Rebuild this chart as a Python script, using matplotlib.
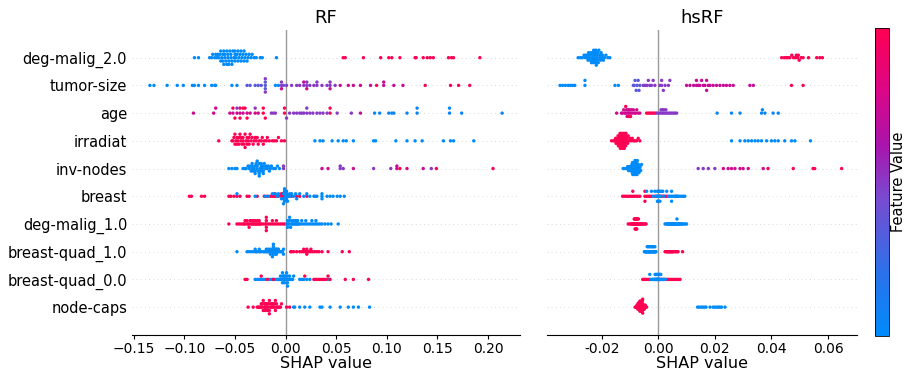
import numpy as np
import matplotlib
matplotlib.use("Agg")
import matplotlib.pyplot as plt
from matplotlib.colors import LinearSegmentedColormap

features = ['deg-malig_2.0', 'tumor-size', 'age', 'irradiat', 'inv-nodes', 'breast',
            'deg-malig_1.0', 'breast-quad_1.0', 'breast-quad_0.0', 'node-caps']

# ---------------- RF : SHAP values grouped by feature value level ----------------
rf_deg_malig_2 = {
    0.0: [-0.090, -0.086, -0.075, -0.073, -0.072, -0.070, -0.069, -0.068, -0.067, -0.066, -0.065,
          -0.064, -0.063, -0.062, -0.062, -0.061, -0.060, -0.060, -0.059, -0.058, -0.057, -0.057,
          -0.056, -0.055, -0.054, -0.054, -0.053, -0.052, -0.051, -0.050, -0.050, -0.049, -0.048,
          -0.047, -0.046, -0.045, -0.044, -0.043, -0.042, -0.041, -0.040, -0.039, -0.037, -0.036,
          -0.034, -0.033, -0.031, -0.029, -0.025, -0.023, -0.009,
          -0.064, -0.061, -0.058, -0.056, -0.053, -0.050, -0.047, -0.044, -0.041, -0.038],
    1.0: [0.057, 0.059, 0.077, 0.094, 0.102, 0.105, 0.113, 0.128, 0.129, 0.136, 0.140, 0.143,
          0.146, 0.161, 0.164, 0.166, 0.192],
}
rf_tumor_size = {
    0.0: [-0.134, -0.130, -0.117, -0.107, -0.101, -0.092, -0.090, -0.086, -0.080, -0.073, -0.070,
          -0.069, -0.053, -0.048, -0.010, -0.007],
    0.35: [-0.038, -0.035, -0.030, -0.027, -0.024, -0.020, -0.020, -0.020, -0.002],
    0.5: [-0.020, -0.020, -0.004, -0.004, 0.001, 0.006, 0.011, 0.014, 0.018, 0.021, 0.021, 0.024,
          0.028, 0.031, 0.031, 0.036, 0.041, 0.044, 0.044, 0.049],
    0.72: [-0.004, 0.018, 0.021, 0.044, 0.054, 0.062, 0.067, 0.074, 0.084, 0.097, 0.097, 0.107, 0.116],
    0.95: [0.090, 0.138, 0.163, 0.171, 0.182],
}
rf_age = {
    0.75: [-0.091, -0.071, -0.069, -0.055, -0.052, -0.048, -0.045, -0.042, -0.038, -0.035, -0.030,
           -0.027, 0.074],
    1.0: [-0.052, -0.050, -0.045, -0.045, -0.042, -0.040, -0.038, -0.022, -0.022, -0.020, -0.001,
          -0.001, 0.044, 0.044],
    0.5: [-0.048, -0.030, -0.014, -0.012, -0.010, 0.001, 0.004, 0.008, 0.011, 0.014, 0.016, 0.018,
          0.021, 0.021, 0.024, 0.027, 0.031, 0.034, 0.037, 0.041, 0.051, 0.065],
    0.05: [0.088, 0.093, 0.102, 0.105, 0.107, 0.120, 0.130, 0.130, 0.162, 0.162, 0.174, 0.214],
}
rf_irradiat = {
    1.0: [-0.066, -0.053, -0.052, -0.051, -0.050, -0.050, -0.049, -0.048, -0.048, -0.047, -0.046,
          -0.046, -0.045, -0.044, -0.044, -0.043, -0.042, -0.042, -0.041, -0.040, -0.040, -0.039,
          -0.038, -0.038, -0.037, -0.036, -0.036, -0.035, -0.034, -0.033, -0.032, -0.031, -0.030,
          -0.029, -0.028, -0.027, -0.026, -0.024, -0.023, -0.022, -0.021, -0.019, -0.018, -0.016,
          -0.013, -0.011, -0.009, -0.007, -0.004, -0.001],
    0.0: [0.029, 0.034, 0.037, 0.046, 0.052, 0.057, 0.060, 0.067, 0.087, 0.089, 0.109, 0.120,
          0.128, 0.135, 0.156, 0.163, 0.166, 0.186],
}
rf_inv_nodes = {
    0.0: [-0.056, -0.053, -0.050, -0.048, -0.042, -0.040, -0.039, -0.037, -0.036, -0.035, -0.034,
          -0.033, -0.033, -0.032, -0.031, -0.030, -0.030, -0.029, -0.028, -0.028, -0.027, -0.026,
          -0.026, -0.025, -0.024, -0.024, -0.023, -0.022, -0.022, -0.021, -0.020, -0.019, -0.018,
          -0.017, -0.016, -0.015, -0.014, -0.012, -0.010, -0.008, -0.006,
          -0.033, -0.030, -0.028, -0.026, -0.024, -0.022],
    0.5: [-0.002, -0.002, 0.054, 0.054, 0.057, 0.087, 0.104, 0.144],
    0.75: [0.036, 0.042, 0.067, 0.110, 0.110, 0.120, 0.136],
    1.0: [0.113, 0.149, 0.205],
}
rf_breast = {
    1.0: [-0.095, -0.093, -0.083, -0.080, -0.056, -0.054, -0.051, -0.048, -0.045, -0.038, -0.036,
          -0.028, -0.021, -0.018, -0.015, -0.013, -0.011, -0.009, -0.007, -0.004, -0.004, -0.003,
          -0.002, 0.001, 0.006, 0.011, 0.014, 0.021, 0.029, -0.003, -0.011],
    0.0: [-0.048, -0.030, -0.020, -0.017, -0.013, -0.010, -0.008, -0.007, -0.004, -0.002, -0.002,
          -0.001, -0.001, 0.001, 0.001, 0.003, 0.004, 0.006, 0.008, 0.010, 0.011, 0.014, 0.018,
          0.021, 0.024, 0.028, 0.031, 0.036, 0.036, 0.036, 0.041, 0.044, 0.047, 0.051, 0.054, 0.058,
          0.000, 0.000, -0.001, 0.001, 0.002, -0.002, 0.004],
}
rf_deg_malig_1 = {
    1.0: [-0.056, -0.048, -0.046, -0.044, -0.042, -0.041, -0.040, -0.038, -0.037, -0.036, -0.035,
          -0.034, -0.033, -0.032, -0.031, -0.030, -0.029, -0.028, -0.027, -0.026, -0.025, -0.024,
          -0.022, -0.020, -0.019, -0.019, -0.019, -0.017, -0.015, -0.013, -0.011, -0.009, -0.007,
          -0.005, -0.003, -0.001,
          -0.040, -0.038, -0.036, -0.034, -0.032, -0.030, -0.028, -0.026, -0.019, -0.019, -0.013,
          -0.009],
    0.0: [0.001, 0.002, 0.002, 0.003, 0.004, 0.004, 0.005, 0.006, 0.007, 0.008, 0.009, 0.010,
          0.011, 0.012, 0.013, 0.014, 0.016, 0.018, 0.020, 0.022, 0.024, 0.026, 0.028, 0.030,
          0.032, 0.034, 0.036, 0.039, 0.042, 0.045, 0.052,
          0.002, 0.004, 0.006, 0.008, 0.010, 0.012, 0.016, 0.020, 0.026, 0.030],
}
rf_breast_quad_1 = {
    0.0: [-0.048, -0.038, -0.036, -0.034, -0.032, -0.030, -0.029, -0.028, -0.026, -0.025, -0.024,
          -0.022, -0.021, -0.020, -0.019, -0.019, -0.018, -0.017, -0.016, -0.015, -0.015, -0.014,
          -0.013, -0.013, -0.012, -0.012, -0.011, -0.011, -0.010, -0.010, -0.009, -0.009, -0.008,
          -0.007, -0.006, -0.005, -0.004, -0.003, -0.002, -0.002,
          -0.017, -0.015, -0.013, -0.012, -0.010, -0.009, -0.008, -0.007, -0.030, -0.026],
    1.0: [0.005, 0.006, 0.008, 0.011, 0.014, 0.016, 0.018, 0.020, 0.021, 0.021, 0.023, 0.025,
          0.027, 0.029, 0.031, 0.033, 0.036, 0.042, 0.056, 0.063, 0.021, 0.018, 0.025],
}
rf_breast_quad_0 = {
    0.0: [-0.030, -0.028, -0.026, -0.024, -0.022, -0.020, -0.017, -0.015, -0.013, -0.011, -0.009,
          -0.008, -0.007, -0.006, -0.005, -0.004, -0.003, -0.003, -0.002, -0.001, -0.001, 0.000,
          0.001, 0.002, 0.002, 0.003, 0.004, 0.005, 0.006, 0.007, 0.008, 0.014, 0.016, 0.018,
          0.021, 0.024, 0.042,
          -0.003, -0.002, -0.001, 0.000, 0.001, 0.002, 0.004, -0.005],
    1.0: [-0.040, -0.038, -0.024, -0.018, -0.012, 0.019, 0.028, 0.030, 0.032, 0.034, 0.036, 0.038,
          0.040, 0.042, 0.044, 0.059, 0.067, 0.082],
}
rf_node_caps = {
    1.0: [-0.037, -0.032, -0.028, -0.027, -0.026, -0.025, -0.024, -0.024, -0.023, -0.023, -0.022,
          -0.022, -0.021, -0.021, -0.020, -0.020, -0.020, -0.019, -0.019, -0.018, -0.018, -0.018,
          -0.017, -0.017, -0.016, -0.016, -0.016, -0.015, -0.015, -0.014, -0.014, -0.013, -0.013,
          -0.012, -0.012, -0.011, -0.011, -0.010, -0.010, -0.009, -0.009, -0.008, -0.007, -0.006,
          -0.005, -0.004, 0.001, 0.004],
    0.0: [0.008, 0.009, 0.014, 0.019, 0.024, 0.034, 0.036, 0.044, 0.054, 0.062, 0.067, 0.072, 0.083],
}

# ---------------- hsRF ----------------
hs_deg_malig_2 = {
    0.0: [-0.0283, -0.0275, -0.0268, -0.0262, -0.0258, -0.0255, -0.0252, -0.0250, -0.0248, -0.0246,
          -0.0244, -0.0242, -0.0240, -0.0238, -0.0236, -0.0234, -0.0232, -0.0231, -0.0230, -0.0229,
          -0.0228, -0.0226, -0.0225, -0.0224, -0.0222, -0.0221, -0.0220, -0.0219, -0.0218, -0.0216,
          -0.0215, -0.0213, -0.0212, -0.0210, -0.0208, -0.0206, -0.0204, -0.0202, -0.0200, -0.0197,
          -0.0194, -0.0190, -0.0185, -0.0178, -0.0171],
    1.0: [0.0436, 0.0445, 0.0452, 0.0458, 0.0465, 0.0472, 0.0478, 0.0485, 0.0488, 0.0492, 0.0495,
          0.0498, 0.0505, 0.0512, 0.0531, 0.0560, 0.0571, 0.0580],
}
hs_tumor_size = {
    0.0: [-0.0347, -0.0338, -0.0328, -0.0318, -0.0310, -0.0302, -0.0295, -0.0259, -0.0259, -0.0153,
          -0.0141],
    0.35: [-0.0088, -0.0085, -0.0082, -0.0078, -0.0075, -0.0071, -0.0068, -0.0065],
    0.5: [-0.0053, -0.0047, -0.0040, -0.0035, -0.0030, -0.0024, -0.0018, -0.0012, 0.0006, 0.0012,
          0.0012, 0.0018, 0.0024, 0.0036, 0.0041],
    0.72: [0.0100, 0.0112, 0.0125, 0.0135, 0.0135, 0.0141, 0.0147, 0.0153, 0.0159, 0.0165, 0.0171,
           0.0171, 0.0177, 0.0183, 0.0194, 0.0206, 0.0218, 0.0230, 0.0241, 0.0253, 0.0265, 0.0324,
           0.0336],
    0.97: [0.0471, 0.0512],
}
hs_age = {
    0.75: [-0.0147, -0.0130, -0.0126, -0.0122, -0.0118, -0.0115, -0.0112, -0.0110, -0.0108, -0.0106,
           -0.0104, -0.0102, -0.0100, -0.0098, -0.0095, -0.0092, -0.0088, -0.0084, -0.0080, -0.0076,
           -0.0071, -0.0065],
    1.0: [-0.0115, -0.0105, -0.0098, -0.0041, -0.0035, -0.0029, -0.0024, -0.0018, -0.0012],
    0.5: [-0.0006, 0.0000, 0.0006, 0.0010, 0.0012, 0.0015, 0.0018, 0.0020, 0.0024, 0.0027, 0.0030,
          0.0036, 0.0041, 0.0047, 0.0053, 0.0059, 0.0065],
    0.05: [0.0208, 0.0259, 0.0289, 0.0365, 0.0368, 0.0377, 0.0406, 0.0424],
}
hs_irradiat = {
    1.0: [-0.0165, -0.0158, -0.0154, -0.0151, -0.0149, -0.0147, -0.0145, -0.0143, -0.0142, -0.0141,
          -0.0140, -0.0139, -0.0138, -0.0137, -0.0136, -0.0135, -0.0134, -0.0133, -0.0132, -0.0131,
          -0.0130, -0.0129, -0.0128, -0.0127, -0.0126, -0.0125, -0.0124, -0.0123, -0.0122, -0.0121,
          -0.0120, -0.0119, -0.0118, -0.0117, -0.0116, -0.0115, -0.0114, -0.0112, -0.0110, -0.0108,
          -0.0106, -0.0103, -0.0100, -0.0096, -0.0092, -0.0088, -0.0083, -0.0077, -0.0071, -0.0065],
    0.0: [0.0259, 0.0289, 0.0306, 0.0318, 0.0330, 0.0342, 0.0353, 0.0365, 0.0383, 0.0400, 0.0412,
          0.0424, 0.0447, 0.0471, 0.0483, 0.0538],
}
hs_inv_nodes = {
    0.0: [-0.0124, -0.0118, -0.0112, -0.0108, -0.0105, -0.0102, -0.0100, -0.0098, -0.0096, -0.0095,
          -0.0094, -0.0093, -0.0092, -0.0091, -0.0090, -0.0089, -0.0088, -0.0087, -0.0086, -0.0085,
          -0.0084, -0.0083, -0.0082, -0.0081, -0.0080, -0.0079, -0.0078, -0.0077, -0.0076, -0.0075,
          -0.0074, -0.0073, -0.0072, -0.0071, -0.0070, -0.0068, -0.0066, -0.0064, -0.0062, -0.0059],
    0.5: [0.0141, 0.0159, 0.0177, 0.0200],
    0.75: [0.0230, 0.0247, 0.0259, 0.0271, 0.0289, 0.0300, 0.0318, 0.0371],
    1.0: [0.0388, 0.0477, 0.0547, 0.0553, 0.0648],
}
hs_breast = {
    1.0: [-0.0126, -0.0120, -0.0114, -0.0108, -0.0102, -0.0096, -0.0090, -0.0084, -0.0078, -0.0072,
          -0.0065, -0.0047, -0.0047, -0.0041, -0.0035, -0.0030, -0.0024, -0.0012, 0.0006, 0.0012,
          0.0018, 0.0024, 0.0030, -0.0090, -0.0047, -0.0002],
    0.0: [-0.0041, -0.0024, -0.0018, -0.0012, -0.0008, -0.0006, -0.0003, 0.0000, 0.0003, 0.0006,
          0.0008, 0.0012, 0.0016, 0.0020, 0.0030, 0.0036, 0.0041, 0.0047, 0.0053, 0.0059, 0.0062,
          0.0065, 0.0068, 0.0071, 0.0077, 0.0083, 0.0089, 0.0094,
          0.0000, 0.0000, 0.0003, -0.0003, 0.0006, 0.0047, 0.0047],
}
hs_deg_malig_1 = {
    1.0: [-0.0106, -0.0100, -0.0096, -0.0093, -0.0091, -0.0089, -0.0087, -0.0086, -0.0085, -0.0084,
          -0.0083, -0.0082, -0.0081, -0.0080, -0.0079, -0.0078, -0.0077, -0.0076, -0.0075, -0.0074,
          -0.0073, -0.0072, -0.0070, -0.0068, -0.0066, -0.0064, -0.0061, -0.0058, -0.0055, -0.0051,
          -0.0047, -0.0043, -0.0082, -0.0080, -0.0078, -0.0076],
    0.0: [0.0024, 0.0028, 0.0031, 0.0034, 0.0036, 0.0038, 0.0040, 0.0042, 0.0044, 0.0046, 0.0048,
          0.0050, 0.0052, 0.0054, 0.0056, 0.0058, 0.0060, 0.0062, 0.0064, 0.0066, 0.0068, 0.0070,
          0.0072, 0.0074, 0.0077, 0.0080, 0.0083, 0.0086, 0.0090, 0.0095, 0.0100],
}
hs_breast_quad_1 = {
    0.0: [-0.0049, -0.0047, -0.0045, -0.0043, -0.0042, -0.0041, -0.0040, -0.0039, -0.0038, -0.0037,
          -0.0036, -0.0035, -0.0034, -0.0033, -0.0032, -0.0031, -0.0030, -0.0029, -0.0028, -0.0027,
          -0.0026, -0.0025, -0.0024, -0.0023, -0.0022, -0.0021, -0.0020, -0.0019, -0.0018, -0.0017,
          -0.0016, -0.0015, -0.0014, -0.0013, -0.0012, -0.0011, -0.0010, -0.0008],
    1.0: [0.0024, 0.0027, 0.0030, 0.0032, 0.0034, 0.0036, 0.0038, 0.0040, 0.0042, 0.0044, 0.0046,
          0.0048, 0.0050, 0.0052, 0.0055, 0.0058, 0.0062, 0.0066, 0.0070, 0.0086],
}
hs_breast_quad_0 = {
    1.0: [-0.0055, -0.0050, -0.0045, -0.0040, -0.0035, -0.0030, 0.0002, 0.0008, 0.0018, 0.0024,
          0.0030, 0.0036, 0.0041, 0.0047, 0.0053, 0.0059, 0.0065, 0.0071, 0.0077],
    0.0: [-0.0030, -0.0026, -0.0022, -0.0019, -0.0016, -0.0014, -0.0012, -0.0011, -0.0010, -0.0009,
          -0.0008, -0.0007, -0.0006, -0.0005, -0.0004, -0.0003, -0.0002, -0.0001, 0.0000, 0.0001,
          0.0002, 0.0003, 0.0004, 0.0005, 0.0007, 0.0009, 0.0011, 0.0013, 0.0015, 0.0020, 0.0025],
}
hs_node_caps = {
    1.0: [-0.0082, -0.0079, -0.0077, -0.0075, -0.0074, -0.0073, -0.0072, -0.0071, -0.0070, -0.0069,
          -0.0068, -0.0067, -0.0067, -0.0066, -0.0066, -0.0065, -0.0065, -0.0064, -0.0064, -0.0063,
          -0.0063, -0.0062, -0.0062, -0.0061, -0.0061, -0.0060, -0.0060, -0.0059, -0.0059, -0.0058,
          -0.0058, -0.0057, -0.0057, -0.0056, -0.0056, -0.0055, -0.0055, -0.0054, -0.0053, -0.0052,
          -0.0051, -0.0050, -0.0049, -0.0048, -0.0046, -0.0044, -0.0041],
    0.0: [0.0139, 0.0145, 0.0151, 0.0157, 0.0163, 0.0169, 0.0183, 0.0194, 0.0200, 0.0206, 0.0212,
          0.0218, 0.0224, 0.0236],
}

rf_rows = [rf_deg_malig_2, rf_tumor_size, rf_age, rf_irradiat, rf_inv_nodes, rf_breast,
           rf_deg_malig_1, rf_breast_quad_1, rf_breast_quad_0, rf_node_caps]
hs_rows = [hs_deg_malig_2, hs_tumor_size, hs_age, hs_irradiat, hs_inv_nodes, hs_breast,
           hs_deg_malig_1, hs_breast_quad_1, hs_breast_quad_0, hs_node_caps]

rf_ticks = [-0.15, -0.10, -0.05, 0.00, 0.05, 0.10, 0.15, 0.20]
hs_ticks = [-0.02, 0.00, 0.02, 0.04, 0.06]
hs_ticklabels = ['-0.02', '0.00', '0.02', '0.04', '0.06']

# shap style red-blue colormap
red_blue = LinearSegmentedColormap.from_list('red_blue', [
    (0.0, '#008bfb'), (0.2, '#2a72ea'), (0.45, '#7a4ad0'),
    (0.62, '#a914ac'), (0.8, '#dc0687'), (1.0, '#ff0052')])


def swarm_offsets(vals, row_height=0.4):
    vals = np.asarray(vals)
    nbins = 100
    quant = np.round(nbins * (vals - vals.min()) / (vals.max() - vals.min() + 1e-8))
    inds = np.argsort(quant, kind='stable')
    ys = np.zeros(len(vals))
    layer = 0
    last_bin = -1
    for i in inds:
        if quant[i] != last_bin:
            layer = 0
        ys[i] = np.ceil(layer / 2) * ((layer % 2) * 2 - 1)
        layer += 1
        last_bin = quant[i]
    ys *= 0.9 * (row_height / np.max(ys + 1))
    return ys


def draw_panel(ax, rows, title):
    n = len(rows)
    for k, groups in enumerate(rows):
        pos = n - 1 - k
        ax.axhline(y=pos, color='#cccccc', lw=0.6, dashes=(1, 4), zorder=-1)
        vals, fvs = [], []
        for fv, lst in groups.items():
            vals += lst
            fvs += [fv] * len(lst)
        vals = np.array(vals)
        ys = swarm_offsets(vals)
        ax.scatter(vals, pos + ys, c=fvs, cmap=red_blue, vmin=0, vmax=1,
                   s=6, linewidth=0, zorder=3)
    ax.axvline(x=0, color='#999999', lw=1, zorder=-1)
    ax.set_ylim(-1, n)
    ax.set_title(title, fontsize=13, pad=5)
    ax.set_xlabel('SHAP value', fontsize=11.5, labelpad=0)
    for s in ['top', 'right', 'left']:
        ax.spines[s].set_visible(False)
    ax.tick_params(axis='y', length=0)
    ax.tick_params(axis='x', labelsize=10, length=3, pad=2)


fig = plt.figure(figsize=(9.06, 3.7), dpi=100)
ax1 = fig.add_axes([0.1457, 0.095, 0.4283, 0.824])
ax2 = fig.add_axes([0.6038, 0.095, 0.342, 0.824])

draw_panel(ax1, rf_rows, 'RF')
ax1.set_xlim(-0.1517, 0.2317)
ax1.set_xticks(rf_ticks)
ax1.set_yticks(range(len(features)))
ax1.set_yticklabels(features[::-1], fontsize=10.5)

draw_panel(ax2, hs_rows, 'hsRF')
ax2.set_xlim(-0.0393, 0.0702)
ax2.set_xticks(hs_ticks)
ax2.set_xticklabels(hs_ticklabels)
ax2.set_yticks([])

cax = fig.add_axes([0.966, 0.092, 0.0155, 0.832])
sm = matplotlib.cm.ScalarMappable(cmap=red_blue, norm=plt.Normalize(0, 1))
cb = fig.colorbar(sm, cax=cax)
cb.set_ticks([])
cb.outline.set_linewidth(0.6)
cb.set_label('Feature Value', fontsize=10.5, labelpad=1)

fig.savefig('out.png', dpi=100)
